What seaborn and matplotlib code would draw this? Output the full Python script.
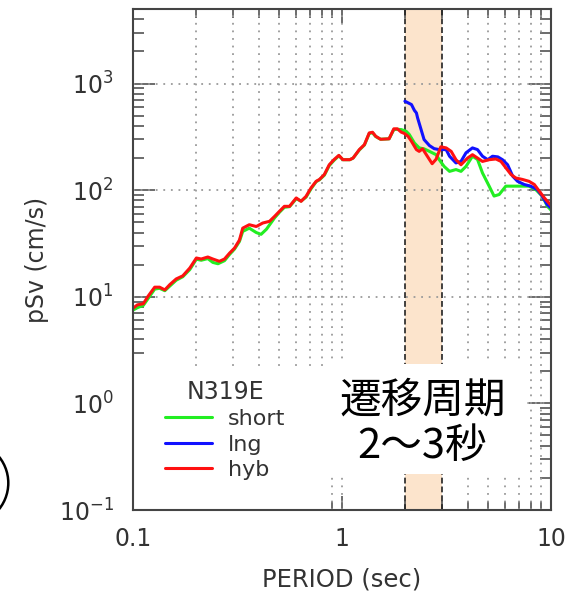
import numpy as np
import pandas as pd
import matplotlib
matplotlib.use("Agg")
import matplotlib.pyplot as plt
from matplotlib import ticker
from matplotlib.patches import Rectangle, Ellipse
import seaborn as sns

# ---- response spectra (pseudo velocity, h=5%) ----
period_hyb = [0.100, 0.105, 0.112, 0.118, 0.127, 0.134, 0.142, 0.150, 0.161, 0.173,
              0.187, 0.201, 0.212, 0.228, 0.241, 0.259, 0.274, 0.290, 0.306, 0.323,
              0.335, 0.360, 0.389, 0.418, 0.450, 0.476, 0.502, 0.530, 0.561, 0.604,
              0.637, 0.673, 0.711, 0.752, 0.780, 0.823, 0.869, 0.915, 0.966, 1.01,
              1.09, 1.13, 1.21, 1.28, 1.35, 1.40, 1.45, 1.53, 1.68, 1.77,
              1.84, 1.92, 1.99, 2.07, 2.15, 2.27, 2.34, 2.43, 2.56, 2.70,
              2.82, 2.97, 3.15, 3.33, 3.51, 3.71, 3.99, 4.21, 4.45, 4.70,
              5.06, 5.45, 5.76, 6.08, 6.44, 6.79, 7.30, 7.85, 8.32, 8.80,
              9.30, 10.0]
psv_hyb = [7.8, 8.4, 8.6, 10.1, 12.3, 12.3, 11.6, 13.0, 14.7, 15.7,
           18.6, 23.1, 22.6, 23.6, 22.6, 21.5, 22.6, 25.7, 28.6, 34.0,
           44.0, 47.4, 45.6, 49.2, 51.0, 56.8, 63.3, 70.5, 70.5, 84.5,
           78.5, 87.5, 105, 121, 126, 140, 173, 193, 212, 193,
           193, 200, 240, 267, 344, 349, 320, 300, 303, 376,
           376, 350, 340, 320, 287, 240, 231, 244, 208, 177,
           195, 255, 249, 231, 193, 173, 200, 215, 200, 186,
           193, 196, 186, 162, 140, 130, 126, 121, 113, 97.5,
           84.5, 72.0]

period_short = [0.100, 0.105, 0.112, 0.118, 0.127, 0.134, 0.142, 0.150, 0.161, 0.173,
                0.187, 0.201, 0.212, 0.228, 0.241, 0.255, 0.274, 0.290, 0.306, 0.323,
                0.335, 0.360, 0.389, 0.410, 0.435, 0.476, 0.502, 0.530, 0.561, 0.604,
                0.637, 0.673, 0.711, 0.752, 0.780, 0.823, 0.869, 0.915, 0.966, 1.01,
                1.09, 1.13, 1.21, 1.28, 1.35, 1.40, 1.45, 1.53, 1.68, 1.77,
                1.84, 1.92, 2.03, 2.10, 2.22, 2.34, 2.47, 2.62, 2.82, 2.92,
                3.08, 3.27, 3.51, 3.71, 3.92, 4.21, 4.45, 4.70, 5.06, 5.34,
                5.65, 6.08, 6.79, 7.30, 7.85, 8.46, 9.10, 9.61, 10.0]
psv_short = [7.5, 7.9, 8.3, 9.6, 11.8, 12.0, 11.4, 12.6, 14.3, 15.4,
             18.0, 22.5, 22.0, 22.8, 21.0, 20.4, 21.8, 25.0, 28.0, 33.0,
             41.0, 44.0, 40.0, 38.5, 43.0, 55.0, 62.0, 69.0, 70.0, 83.0,
             79.0, 86.0, 103, 120, 125, 138, 170, 190, 210, 193,
             193, 200, 238, 265, 340, 345, 318, 300, 303, 370,
             372, 370, 356, 332, 277, 249, 244, 231, 215, 193,
             167, 150, 156, 150, 167, 208, 194, 145, 109, 88.0,
             91.0, 109, 109, 109, 109, 101, 87.5, 70.5, 65.0]

period_lng = [2.00, 2.10, 2.15, 2.22, 2.27, 2.30, 2.39, 2.47, 2.62, 2.76,
              2.92, 3.03, 3.15, 3.27, 3.51, 3.71, 3.92, 4.21, 4.45, 4.70,
              4.98, 5.25, 5.57, 5.86, 6.20, 6.56, 6.92, 7.44, 8.00, 8.60,
              9.10, 9.60, 10.0]
psv_lng = [682, 650, 635, 560, 530, 476, 370, 298, 262, 245,
           240, 240, 240, 208, 180, 186, 224, 249, 240, 208,
           193, 208, 205, 193, 173, 135, 121, 113, 109, 101,
           87.5, 73.0, 68.0]

series_names = ["short", "lng", "hyb"]
series_colors = ["#22ee22", "#1111ff", "#ff1111"]

x_ticks = [0.1, 1, 10]
x_tick_labels = ["0.1", "1", "10"]
y_ticks = [0.1, 1, 10, 100, 1000]
y_tick_labels = [r"$\mathregular{10^{-1}}$", r"$\mathregular{10^{0}}$",
                 r"$\mathregular{10^{1}}$", r"$\mathregular{10^{2}}$",
                 r"$\mathregular{10^{3}}$"]
transition_band = (2.0, 3.0)
component = "N319E"
band_note = "遷移周期\n2～3秒"

# ---- long-form table for seaborn ----
frames = []
for name, per, val in [("short", period_short, psv_short),
                       ("lng", period_lng, psv_lng),
                       ("hyb", period_hyb, psv_hyb)]:
    frames.append(pd.DataFrame({"period": per, "psv": val, "model": name}))
spectra = pd.concat(frames, ignore_index=True)

sns.set_theme(style="ticks")
plt.rcParams["font.family"] = ["DejaVu Sans", "Noto Sans CJK JP"]
plt.rcParams["mathtext.default"] = "regular"

W, H = 572, 595
fig = plt.figure(figsize=(W / 100, H / 100), dpi=100)
ax = fig.add_axes([133 / W, 85 / H, 418 / W, 501 / H])
ax.set_xscale("log")
ax.set_yscale("log")
ax.set_xlim(0.1, 10)
ax.set_ylim(0.1, 5000)

# transition band and its dashed edges
ax.axvspan(*transition_band, color="#fce4cc", lw=0, zorder=0.5)
for edge in transition_band:
    ax.axvline(edge, color="#222222", lw=1.2, ls=(0, (3.5, 1.8)), zorder=0.8)

# dotted grid: every decade horizontally, every 1-9 step vertically
grid_kw = dict(color="#9a9a9a", lw=1.3, ls=(0, (1, 3.2)), zorder=0.6)
for dec in [0.1, 1.0]:
    for k in range(1, 10):
        xv = dec * k
        if 0.1 < xv < 10 and not np.isclose(xv, transition_band).any():
            ax.axvline(xv, **grid_kw)
for yv in [1, 10, 100, 1000]:
    ax.axhline(yv, **grid_kw)

sns.lineplot(data=spectra, x="period", y="psv", hue="model",
             hue_order=series_names, palette=series_colors,
             lw=2.2, sort=False, estimator=None, ax=ax, zorder=2)

# white panels behind legend and annotation
ax.add_patch(Rectangle((0, 0), 0.4665, 0.279, transform=ax.transAxes,
                       facecolor="white", edgecolor="none", zorder=2.2))
ax.add_patch(Rectangle((0.4665, 0.072), 0.4685, 0.219, transform=ax.transAxes,
                       facecolor="white", edgecolor="none", zorder=2.2))

# axes styling
for sp in ax.spines.values():
    sp.set_linewidth(1.5)
    sp.set_color("#444444")
    sp.set_visible(True)
ax.set_xticks(x_ticks)
ax.set_xticklabels(x_tick_labels)
ax.set_yticks(y_ticks)
ax.set_yticklabels(y_tick_labels)
ax.xaxis.set_minor_locator(ticker.LogLocator(base=10, subs=np.arange(2, 10)))
ax.yaxis.set_minor_locator(ticker.LogLocator(base=10, subs=np.arange(2, 10), numticks=20))
ax.xaxis.set_minor_formatter(ticker.NullFormatter())
ax.yaxis.set_minor_formatter(ticker.NullFormatter())
ax.tick_params(which="both", direction="in", top=True, right=True,
               color="#444444", width=1.1, labelsize=17, labelcolor="#333333")
ax.tick_params(axis="x", which="major", length=10, pad=12)
ax.tick_params(axis="x", which="minor", length=6.5)
ax.tick_params(axis="y", which="major", length=16, pad=14)
ax.tick_params(axis="y", which="minor", length=8)

ax.set_xlabel("PERIOD (sec)", fontsize=17.5, color="#333333", labelpad=12)
ax.set_ylabel("pSv (cm/s)", fontsize=17, color="#333333", labelpad=7)

leg = ax.legend(title=component, loc="center", bbox_to_anchor=(0.22, 0.16),
                frameon=False, fontsize=16, title_fontsize=17,
                handlelength=2.15, handletextpad=0.7, labelspacing=0.25,
                borderpad=0)
for line in leg.get_lines():
    line.set_linewidth(2.2)
for t in leg.get_texts():
    t.set_color("#333333")
leg.get_title().set_color("#333333")
leg.set_zorder(5)

fig.text(422.5 / W, 1 - 424 / H, band_note, fontsize=30, ha="center", va="center",
         family=["Noto Sans CJK JP", "DejaVu Sans"], linespacing=1.15,
         color="black", zorder=6)

# edge of a neighbouring circled mark
fig.add_artist(Ellipse((-0.335, (H - 483) / 100), 0.836, 0.836,
                       transform=fig.dpi_scale_trans, fill=False,
                       edgecolor="black", lw=1.8))

fig.savefig("out.png", dpi=100)
